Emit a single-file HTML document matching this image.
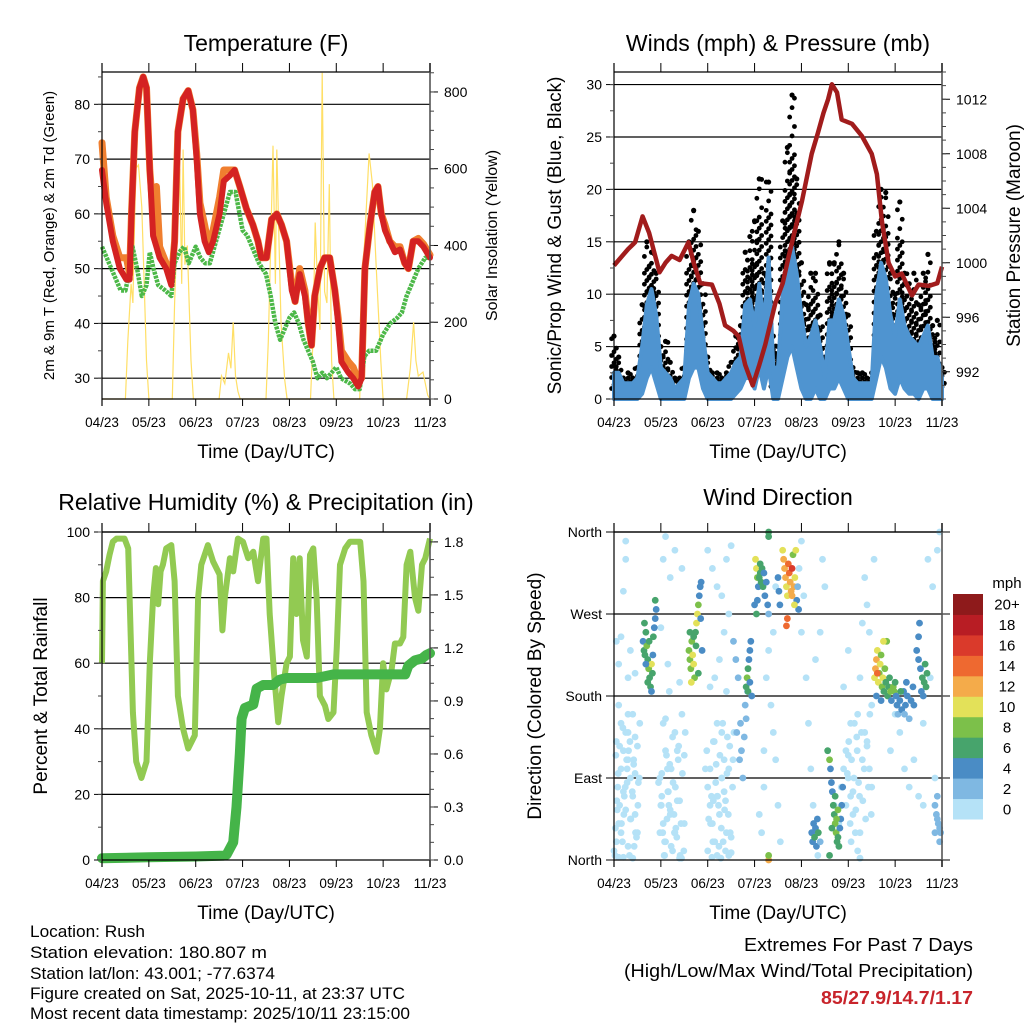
<!DOCTYPE html>
<html><head><meta charset="utf-8">
<style>
html,body{margin:0;padding:0;background:#fff;}
svg{display:block;font-family:"Liberation Sans",Arial,sans-serif;}
</style></head>
<body>
<svg id="c" width="1024" height="1024" viewBox="0 0 1024 1024">
<g id="g"></g>
<g font-size="17" fill="#000">
<text x="30" y="937" textLength="115" lengthAdjust="spacingAndGlyphs">Location: Rush</text>
<text x="30" y="958" textLength="237" lengthAdjust="spacingAndGlyphs">Station elevation: 180.807 m</text>
<text x="30" y="979" textLength="245" lengthAdjust="spacingAndGlyphs">Station lat/lon: 43.001; -77.6374</text>
<text x="30" y="999" textLength="375" lengthAdjust="spacingAndGlyphs">Figure created on Sat, 2025-10-11, at 23:37 UTC</text>
<text x="30" y="1019" textLength="380" lengthAdjust="spacingAndGlyphs">Most recent data timestamp: 2025/10/11 23:15:00</text>
</g>
<g text-anchor="end">
<text x="973" y="951" font-size="18" textLength="229" lengthAdjust="spacingAndGlyphs">Extremes For Past 7 Days</text>
<text x="973" y="977" font-size="18" textLength="349" lengthAdjust="spacingAndGlyphs">(High/Low/Max Wind/Total Precipitation)</text>
<text x="973" y="1004" font-size="18" font-weight="bold" fill="#c8242b" textLength="152" lengthAdjust="spacingAndGlyphs">85/27.9/14.7/1.17</text>
</g>
</svg>
<script>
// ---------- data ----------
const xTickLabels = ["04/23","05/23","06/23","07/23","08/23","09/23","10/23","11/23"];
// Temperature
const tT = [0,0.09,0.23,0.38,0.52,0.59,0.63,0.7,0.8,0.88,0.95,1.02,1.09,1.16,1.23,1.37,1.48,1.55,1.62,1.73,1.84,1.94,2.02,2.09,2.19,2.28,2.37,2.51,2.6,2.73,2.83,2.94,3.08,3.22,3.33,3.4,3.51,3.62,3.73,3.83,3.94,4.05,4.12,4.22,4.33,4.4,4.47,4.54,4.65,4.75,4.86,4.97,5.04,5.11,5.26,5.36,5.47,5.54,5.61,5.72,5.82,5.89,5.96,6.04,6.14,6.25,6.36,6.46,6.54,6.64,6.75,6.86,7.0];
const tempRed = [68,62,55,50,48,48,60,75,83,85,83,68,56,54,52,50,47,55,75,81,82.5,79,70,60,55,53,55,60,66,67,68,65,61,58,55,52,52,59,60,58,55,46,44,49,45,40,36,45,50,52,52,46,40,33,31,30,28.5,30,50,58,64,65,60,57,55,53,53.5,51,50,55,55,54,52];
const tempOrange = [73,63,56,52,52,49,60,75,83,85,83,68,60,65,54,51,48,55,75,81,82.5,79,71,62,58,54,57,63,68,68,68,65,61,58,55,52,52,59,60,58,55,47,44,50,46,40,36,45,50,52,52,46,41,35,33,32,29.5,30,50,58,64,65,60,58,55,54,54,51,50,55,55.5,54.5,52.5];
const tTd = [0,0.1,0.25,0.4,0.5,0.6,0.65,0.75,0.85,0.95,1.02,1.1,1.2,1.35,1.48,1.55,1.65,1.75,1.85,2.0,2.1,2.2,2.3,2.4,2.5,2.6,2.73,2.85,3.0,3.1,3.25,3.35,3.5,3.6,3.7,3.8,3.9,4.0,4.1,4.2,4.3,4.4,4.5,4.6,4.7,4.8,4.9,5.0,5.1,5.3,5.4,5.5,5.6,5.7,5.85,6.0,6.15,6.3,6.4,6.5,6.6,6.75,6.9,7.0];
const dewpoint = [54,52,49,46,46,50,54,50,45,47,53,50,47,46,45,51,53,54,51,54,52,51,51,54,57,60,64,64,57,56,53,51,49,45,40,37,39,41,42,40,37,35,33,30,31,30,31,32,30,29,28,28,34,35,35,38,40,41,42,45,47,50,52,52];
const tSolar = [0,0.5,0.55,0.62,0.66,0.72,0.78,0.85,0.9,0.95,1.0,1.5,1.55,1.62,1.66,1.7,1.73,1.77,1.82,1.9,1.95,2.5,2.55,2.62,2.7,2.75,2.8,2.85,2.9,2.95,3.5,3.55,3.6,3.65,3.7,3.73,3.78,3.82,3.9,3.95,4.45,4.5,4.55,4.6,4.65,4.7,4.75,4.8,4.85,4.9,4.95,5.5,5.6,5.7,5.77,5.85,5.95,6.0,6.5,6.58,6.65,6.7,6.75,6.85,6.95,7.0];
const solar = [0,0,150,300,250,600,610,500,300,100,0,0,250,500,600,300,650,350,400,100,0,0,60,40,120,80,200,60,20,0,0,150,400,660,300,650,400,200,50,0,0,150,460,300,180,850,280,250,560,100,0,0,400,640,560,350,100,0,0,80,200,100,60,70,10,0];
// Wind (0.1-day bins)
const gust = [6,4,2,2.5,2,3,9,15,14,12,5,5.5,3.5,2,2,3,15,18,16,11,4,2.5,2.5,2,2.5,3.5,6,7,14,15.5,17,21,12,20.7,6,5,17,24,29,21,13,9,12,12,8,4,13,13,15,12,8,3,2.5,2.5,2,2.5,16,20,19.7,12,10,18.8,12,11,12,9,12,13.8,7,7.5,3];
const windHi = [2.5,2.5,1.5,1.5,1.5,2,5,9,10.5,8,3,2.5,2,1,1.5,2,9,11,10,6,2.5,2,1.5,1.5,2,2.5,3.5,4,9,9.5,7,11,7,13.5,3,3,10,13,14.5,12,8,5,6,7.5,5,2,7.5,7.5,9.5,8,5,2,1.5,1.5,1.5,1.5,10,13,11.5,8,6,9.5,7,6,5.5,5,6,7,4,4,2];
const windLo = [0,0,0,0,0,0,0.5,2,3,1.5,0,0,0,0,0,0,2,3,3,1,0,0,0,0,0,0,0.5,1,2,2,1,3,1,3,0,0,2,4,5,3,1,0,0,1,0,0,1,1,2,1,0,0,0,0,0,0,2,4,3,1,0.5,2,1,0.5,0.5,0,1,1,0,0,0];
const tP = [0,0.3,0.45,0.61,0.75,0.97,1.1,1.23,1.4,1.59,1.7,1.84,2.09,2.25,2.37,2.55,2.66,2.8,2.96,3.1,3.23,3.44,3.6,3.73,3.87,4.01,4.22,4.35,4.47,4.57,4.65,4.76,4.86,5.08,5.29,5.5,5.61,5.72,5.86,6.0,6.14,6.36,6.5,6.72,6.9,7.0];
const pressure = [999.8,1001,1001.5,1003.4,1002.2,999.3,1000,1000.5,1000.2,1001.5,1000,998.5,998.4,997,995.4,995,994.6,992.5,991,992.5,994,997,998.5,1000.5,1002.5,1004.5,1008,1009.5,1011,1012,1013.1,1012.5,1010.5,1010.2,1009.3,1008,1006.5,1003,1000,999,999.2,997.6,998.4,998.3,998.5,999.7];
// RH & precip
const tRH = [0,0.02,0.09,0.16,0.23,0.31,0.48,0.56,0.59,0.66,0.73,0.84,0.95,1.02,1.09,1.15,1.2,1.25,1.3,1.37,1.48,1.55,1.62,1.73,1.84,1.98,2.05,2.12,2.19,2.26,2.37,2.51,2.57,2.62,2.73,2.8,2.9,3.01,3.12,3.23,3.33,3.44,3.51,3.58,3.67,3.76,3.83,3.94,4.01,4.08,4.15,4.22,4.29,4.37,4.44,4.51,4.58,4.65,4.76,4.83,4.94,5.01,5.08,5.19,5.29,5.51,5.58,5.65,5.75,5.86,5.93,6.0,6.07,6.18,6.25,6.36,6.43,6.5,6.58,6.68,6.75,6.83,6.9,7.0];
const rh = [60,85,88,93,97,98,98,95,80,45,30,25,30,60,80,89,78,88,90,95,96,85,50,40,34,38,80,90,93,96,91,87,70,80,92,88,98,97,92,94,85,98,98,75,57,42,50,60,62,92,75,92,67,62,93,95,80,50,47,43,45,65,90,95,97,97,85,45,38,33,40,60,52,58,66,66,68,90,94,80,76,90,92,98];
const tPr = [0,1.0,2.0,2.6,2.66,2.8,2.87,2.94,2.98,3.05,3.23,3.3,3.44,3.65,3.79,3.94,4.58,4.94,6.47,6.54,6.68,6.83,6.92,7.0];
const precip = [0.01,0.015,0.02,0.025,0.03,0.1,0.3,0.6,0.8,0.86,0.88,0.97,0.99,0.99,1.02,1.03,1.03,1.05,1.05,1.1,1.13,1.14,1.16,1.17];
// Wind direction points
const dirT = [0.02,0.05,0.1,0.12,0.08,0.15,0.2,0.25,0.3,0.35,0.4,0.45,0.5,0.3,0.2,0.4,0.15,0.25,0.35,0.45,0.5,0.55,0.3,0.1,0.05,0.2,0.42,0.28,0.25,0.25,0.2,0.15,0.1,0.35,0.3,0.45,0.05,
0.95,1.0,1.05,1.1,1.15,1.2,1.25,1.3,1.35,1.4,1.02,1.12,0.98,1.22,1.3,1.35,1.45,1.1,1.08,1.5,1.18,1.1,1.05,1.2,1.3,1.45,1.0,1.15,1.4,
1.95,2.0,2.05,2.1,2.15,2.2,2.25,2.3,2.35,2.4,2.45,2.0,2.12,2.2,2.3,1.98,2.38,2.5,2.28,2.0,2.1,2.2,2.3,2.4,2.5,2.45,2.35,2.25,2.15,2.05,2.4,
3.1,3.15,3.2,3.25,3.3,3.35,3.4,3.45,3.5,3.55,3.45,3.4,3.2,3.95,4.0,4.05,4.1,4.15,4.2,4.25,4.3,4.35,4.4,4.45,4.5,4.0,4.3,
4.7,4.8,4.85,4.9,4.95,5.0,5.05,5.1,5.15,5.2,5.25,5.3,5.35,5.4,5.45,5.5,5.05,5.2,5.25,5.3,5.35,5.4,5.5,5.55,5.45,5.0,4.9,
5.9,6.0,6.1,6.2,6.3,6.4,6.5,6.6,6.7,6.8,6.9,6.95,6.75,6.85,6.6,
0.0,0.03,0.06,0.09,0.12,0.15,0.18,0.21,0.24,0.27,0.3,0.33,0.36,0.39,0.42,0.45,0.48,0.51,0.54,0.04,0.1,0.16,0.22,0.28,0.34,0.4,0.46,0.52,0.07,0.19,0.31,0.43,
0.98,1.01,1.04,1.07,1.1,1.13,1.16,1.19,1.22,1.25,1.28,1.31,1.34,1.37,1.4,1.43,1.46,1.49,1.52,1.02,1.08,1.14,1.2,1.26,1.32,1.38,1.44,1.5,1.05,1.17,1.29,1.41,
2.02,2.05,2.08,2.11,2.14,2.17,2.2,2.23,2.26,2.29,2.32,2.35,2.38,2.41,2.44,2.47,2.5,2.53,2.56,2.06,2.12,2.18,2.24,2.3,2.36,2.42,2.48,2.54,2.09,2.21,2.33,2.45,
4.95,4.98,5.01,5.04,5.07,5.1,5.13,5.16,5.19,5.22,5.25,5.28,5.31,5.34,5.37,5.4,5.43,5.46,5.49,5.0,5.06,5.12,5.18,5.24,
2.55,2.6,2.65,2.7,2.72,2.68,2.75,2.62,6.85,6.88,6.9,6.92,6.95,6.97,6.9,6.85,6.95,2.8,2.82,2.78,2.85,
0.62,0.64,0.66,0.68,0.7,0.72,0.74,0.76,0.78,0.8,0.82,0.84,0.86,0.88,0.65,0.75,0.83,0.8,0.72,0.68,0.9,0.88,
1.6,1.62,1.64,1.66,1.68,1.7,1.72,1.74,1.76,1.78,1.8,1.82,1.84,1.86,1.75,1.65,1.7,1.88,1.8,1.62,1.85,
2.82,2.84,2.86,2.88,2.9,2.92,2.86,2.9,2.94,
3.02,3.04,3.06,3.08,3.1,3.12,3.14,3.16,3.18,3.2,3.06,3.22,3.25,3.28,3.3,3.3,3.0,3.04,3.12,
3.6,3.62,3.64,3.66,3.68,3.7,3.72,3.74,3.76,3.78,3.8,3.82,3.84,3.86,3.88,3.5,3.52,3.54,3.9,3.92,3.94,3.7,3.85,3.8,
4.22,4.24,4.26,4.28,4.3,4.32,4.34,4.36,4.4,
4.56,4.6,4.62,4.64,4.66,4.68,4.7,4.72,4.74,4.76,4.78,4.8,4.82,4.84,4.86,4.88,4.72,4.65,4.6,4.78,4.75,
5.56,5.58,5.6,5.62,5.64,5.66,5.68,5.7,5.72,5.74,5.76,5.78,5.8,5.82,5.84,5.86,5.88,5.9,5.92,5.6,5.7,5.75,5.62,
5.96,5.98,6.0,6.02,6.04,6.06,6.1,6.14,6.18,6.2,6.22,6.26,6.3,6.34,6.38,6.4,6.12,6.24,
6.46,6.5,6.54,6.58,6.62,6.66,6.68,6.64,6.56,6.6,6.5,6.52,
3.3,3.3,3.3,3.68];
const dirDeg = [5,20,40,60,80,100,120,140,110,90,70,50,30,15,3,2,30,55,45,95,125,150,160,170,130,75,110,85,350,330,295,245,215,230,200,205,240,
85,60,40,20,75,50,10,30,65,2,95,115,30,100,140,120,160,155,5,40,185,355,330,310,340,320,255,215,195,
100,80,60,40,20,70,50,90,110,30,5,10,130,150,140,120,65,8,2,340,320,300,290,330,345,270,250,220,200,190,185,
50,30,80,200,230,170,140,110,60,20,300,250,120,320,350,290,200,150,100,60,30,5,250,330,300,250,220,
60,40,80,100,120,90,70,50,30,10,2,110,140,130,100,80,150,160,200,260,310,280,170,330,250,230,190,
120,160,140,100,80,110,70,150,330,300,340,360,200,90,60,
10,35,65,95,125,150,20,50,80,110,140,5,45,75,105,135,25,60,90,115,3,40,70,100,130,160,30,85,55,145,120,15,
90,60,30,5,120,45,75,105,15,135,50,80,25,110,65,40,95,10,140,70,20,100,55,85,35,125,2,115,150,60,30,5,
45,100,70,20,130,85,5,60,115,35,150,75,10,95,50,125,25,80,140,40,65,105,15,90,55,135,30,110,3,70,20,100,
60,95,130,40,110,75,150,55,120,85,30,140,65,100,45,125,80,160,50,115,20,90,135,70,
240,220,200,150,120,110,90,140,60,50,45,40,35,30,70,30,20,170,155,135,185,
240,230,225,250,235,220,210,200,190,215,205,245,255,265,260,240,225,185,195,215,275,285,
230,220,210,240,225,215,200,250,260,270,280,290,300,305,235,195,245,230,205,250,265,
190,200,210,220,230,240,185,195,180,
330,320,310,300,310,315,305,320,300,315,285,290,305,280,270,355,280,270,325,
340,330,320,310,300,290,325,315,305,295,320,335,300,310,340,310,295,280,285,300,275,265,280,290,
30,20,40,25,35,15,45,30,20,
120,110,100,85,75,60,50,40,30,20,25,15,35,45,60,80,70,35,5,55,45,
200,210,220,230,195,205,215,225,190,200,185,210,195,240,180,190,200,185,175,180,175,240,205,
190,185,195,180,170,160,175,165,185,160,170,180,155,175,190,170,185,195,
230,220,210,200,195,190,205,215,185,180,245,260,
0,5,360,257];
const dirSpd = [1,1,1,1,1,1,1,1,1,1,1,1,1,1,1,1,1,1,1,1,1,1,1,1,1,1,1,1,1,1,1,1,1,1,1,1,1,
1,1,1,1,1,1,1,1,1,1,1,1,1,1,1,1,1,1,1,1,1,1,1,1,1,1,1,1,1,
1,1,1,1,1,1,1,1,1,1,1,1,1,1,1,1,1,1,1,1,1,1,1,1,1,1,1,1,1,1,1,
1,1,1,1,1,1,1,1,1,1,1,1,1,1,1,1,1,1,1,1,1,1,1,1,1,1,1,
1,1,1,1,1,1,1,1,1,1,1,1,1,1,1,1,1,1,1,1,1,1,1,1,1,1,1,
1,1,1,1,1,1,1,1,1,1,1,1,1,1,1,
1,1,1,1,1,1,1,1,1,1,1,1,1,1,1,1,1,1,1,1,1,1,1,1,1,1,1,1,1,1,1,1,
1,1,1,1,1,1,1,1,1,1,1,1,1,1,1,1,1,1,1,1,1,1,1,1,1,1,1,1,1,1,1,1,
1,1,1,1,1,1,1,1,1,1,1,1,1,1,1,1,1,1,1,1,1,1,1,1,1,1,1,1,1,1,1,1,
1,1,1,1,1,1,1,1,1,1,1,1,1,1,1,1,1,1,1,1,1,1,1,1,
3,3,3,3,3,3,3,3,3,3,3,3,3,3,3,3,3,3,3,3,3,
5,7,6,6,8,7,9,7,7,10,7,7,5,4,6,6,5,5,6,4,4,7,
9,8,9,8,11,10,9,7,11,10,9,5,4,4,6,10,7,4,6,7,5,
6,8,6,5,4,4,7,5,4,
10,11,9,5,6,6,6,7,6,5,4,5,4,4,3,6,4,6,7,
11,12,13,12,11,11,15,14,12,12,16,9,13,11,11,5,4,4,4,3,4,15,10,12,
4,5,4,6,5,4,4,6,3,
6,8,5,4,5,6,7,9,8,6,7,6,5,4,5,4,6,6,7,8,8,
10,12,13,11,10,9,10,8,9,10,7,8,6,9,6,7,7,8,5,4,4,10,14,
8,8,7,5,4,3,4,4,4,3,4,4,3,4,4,4,6,5,
4,4,5,6,6,7,7,6,4,5,4,4,
12,8,7,14];
const spdColors = ["#b5e2f7","#7fb8e2","#4a8cc5","#47a46c","#7cc04a","#e3e159","#f4ab4a","#ee6930","#da3a2b","#b81d24","#8e1a1b"];
const legendLabels = ["0","2","4","6","8","10","12","14","16","18","20+"];
const dirLabels = ["North","East","South","West","North"];

// ---------- helpers ----------
const NS="http://www.w3.org/2000/svg";
const root=document.getElementById('g');
function mk(tag,attrs,parent){const e=document.createElementNS(NS,tag);for(const k in attrs)e.setAttribute(k,attrs[k]);(parent||root).appendChild(e);return e;}
function txt(s,attrs,parent){const e=mk('text',attrs,parent);e.textContent=s;return e;}
function lin(a,b,x0,x1){return v=>x0+(v-a)*(x1-x0)/(b-a);}

function panel(cfg){
  const g=mk('g',{});
  
  
  const {x0,x1,y0,y1}=cfg;
  const X=lin(0,7,x0,x1);
  const Y=lin(cfg.lmin,cfg.lmax,y1,y0);
  cfg.lticks.forEach(v=>{const y=Y(v);if(v>cfg.lmin+0.0001){const l=mk('line',{x1:x0,x2:x1,y1:y,y2:y,stroke:'#000','stroke-width':1.2},g);}});
  cfg.g=g;cfg.X=X;cfg.Y=Y;
  return cfg;
}
function axes(cfg){
  const {x0,x1,y0,y1,g,X,Y}=cfg;
  const ax=mk('g',{},g);
  
  
  mk('line',{x1:x0,x2:x1,y1:y0,y2:y0,stroke:'#000','stroke-width':1.2},ax);
  mk('line',{x1:x0,x2:x1,y1:y1,y2:y1,stroke:'#000','stroke-width':1.2},ax);
  mk('line',{x1:x0,x2:x0,y1:y0-9,y2:y1+7,stroke:'#000','stroke-width':1.2},ax);
  mk('line',{x1:x1,x2:x1,y1:y0-9,y2:y1+7,stroke:'#555','stroke-width':1.6},ax);
  for(let i=0;i<8;i++){const x=X(i);
    mk('line',{x1:x,x2:x,y1:y0-9,y2:y0,stroke:'#000'},ax);
    mk('line',{x1:x,x2:x,y1:y1,y2:y1+7,stroke:'#000'},ax);
    const t=txt(xTickLabels[i],{x:x,y:y1+28,'font-size':13.5,'text-anchor':'middle'},ax);
    
    
  }
  const xt=txt('Time (Day/UTC)',{x:(x0+x1)/2,y:y1+59,'font-size':19,'text-anchor':'middle'},ax);
  
  
  cfg.lticks.forEach((v,i)=>{const y=Y(v);
    mk('line',{x1:x0-8,x2:x0,y1:y,y2:y,stroke:'#000'},ax);
    const t=txt(cfg.llabels?cfg.llabels[i]:String(v),{x:x0-12,y:y+5,'font-size':cfg.lfs||14,'text-anchor':'end'},ax);
    
    
  });
  (cfg.lminor||[]).forEach(v=>{const y=Y(v);mk('line',{x1:x0-4,x2:x0,y1:y,y2:y,stroke:'#444'},ax);});
  if(cfg.rmin!==undefined){
    const R=lin(cfg.rmin,cfg.rmax,y1,y0);
    cfg.rticks.forEach(v=>{const y=R(v);
      mk('line',{x1:x1,x2:x1+8,y1:y,y2:y,stroke:'#000'},ax);
      const t=txt(cfg.rfmt?cfg.rfmt(v):String(v),{x:x1+14,y:y+5,'font-size':14},ax);
      
      
    });
    (cfg.rminor||[]).forEach(v=>{const y=R(v);mk('line',{x1:x1,x2:x1+4,y1:y,y2:y,stroke:'#444'},ax);});
  }
  const tt=txt(cfg.title,{x:(x0+x1)/2,y:cfg.titleY,'font-size':23,'text-anchor':'middle'},ax);
  
  
  const yl=txt(cfg.ltitle,{x:0,y:0,'font-size':cfg.ltfs,'text-anchor':'middle',transform:`translate(${cfg.ltx},${(y0+y1)/2}) rotate(-90)`},ax);
  
  
  if(cfg.rtitle){
    const yr=txt(cfg.rtitle,{x:0,y:0,'font-size':cfg.rtfs,'text-anchor':'middle',transform:`translate(${cfg.rtx},${(y0+y1)/2}) rotate(-90)`},ax);
    
    
  }
}
function range(a,b,s){const r=[];for(let v=a;v<=b+1e-9;v+=s)r.push(+v.toFixed(3));return r;}
function pathFrom(ts,vs,X,Y){return ts.map((t,i)=>(i?'L':'M')+X(t).toFixed(1)+','+Y(vs[i]).toFixed(1)).join('');}

// ---------- Panel 1: Temperature ----------
const p1=panel({name:'temperature-panel',x0:102,x1:430,y0:72,y1:399,lmin:26.2,lmax:85.9,lticks:[30,40,50,60,70,80],lminor:range(30,85,5),
  rmin:0,rmax:852,rticks:[0,200,400,600,800],rminor:range(0,850,50),title:'Temperature (F)',titleY:51,
  ltitle:'2m & 9m T (Red, Orange) & 2m Td (Green)',ltfs:15,ltx:54,rtitle:'Solar Insolation (Yellow)',rtfs:16,rtx:497});
{
  const S=lin(0,852,399,72);
  const sp=mk('path',{d:pathFrom(tSolar,solar,p1.X,S),fill:'none',stroke:'#ffdf66','stroke-width':1.2},p1.g);
  
  
  const op=mk('path',{d:pathFrom(tT,tempOrange,p1.X,p1.Y),fill:'none',stroke:'#f07f2f','stroke-width':7,'stroke-linejoin':'round','stroke-linecap':'round'},p1.g);
  
  
  const gp=mk('path',{d:pathFrom(tTd,dewpoint,p1.X,p1.Y),fill:'none',stroke:'#4cb848','stroke-width':4.5,'stroke-dasharray':'3 1','stroke-linejoin':'round'},p1.g);
  
  
  const rp=mk('path',{d:pathFrom(tT,tempRed,p1.X,p1.Y),fill:'none',stroke:'#d42222','stroke-width':6,'stroke-linejoin':'round','stroke-linecap':'round'},p1.g);
  
  
  axes(p1);
}
// ---------- Panel 2: Winds ----------
const p2=panel({name:'winds-panel',x0:614,x1:942,y0:72,y1:399,lmin:0,lmax:31.2,lticks:[0,5,10,15,20,25,30],lminor:range(0,31,2.5),
  rmin:990,rmax:1014,rticks:[992,996,1000,1004,1008,1012],rminor:range(990,1014,1),title:'Winds (mph) & Pressure (mb)',titleY:51,
  ltitle:'Sonic/Prop Wind & Gust (Blue, Black)',ltfs:19,ltx:561,rtitle:'Station Pressure (Maroon)',rtfs:19,rtx:1020});
{
  const ts=gust.map((_,i)=>i*0.1);
  const gg=mk('g',{fill:'#000'},p2.g);
  
  
  gust.forEach((gv,i)=>{
    const x=p2.X(ts[i]);
    let k=0;
    const dense=windHi[i]+(gv-windHi[i])*0.6;
    for(let v=windHi[i]*0.4;v<=gv;v+=(v<dense?0.35:0.9)){
      const dx=[-2.4,0,2.4][k%3];k++;
      mk('circle',{cx:x+dx,cy:p2.Y(v),r:2.4},gg);
    }
    const c=mk('circle',{cx:x,cy:p2.Y(gv),r:2.6},gg);
    
    
  });
  let d='M'+p2.X(0)+','+p2.Y(windLo[0]);
  windHi.forEach((v,i)=>{d+='L'+p2.X(ts[i]).toFixed(1)+','+p2.Y(v).toFixed(1);});
  for(let i=windLo.length-1;i>=0;i--)d+='L'+p2.X(ts[i]).toFixed(1)+','+p2.Y(windLo[i]).toFixed(1);
  const wp=mk('path',{d:d+'Z',fill:'#4f94d0',stroke:'#4f94d0','stroke-width':4,'stroke-linejoin':'round'},p2.g);
  
  
  const P=lin(990,1014,399,72);
  const pp=mk('path',{d:pathFrom(tP,pressure,p2.X,P),fill:'none',stroke:'#a11c1c','stroke-width':4.5,'stroke-linejoin':'round'},p2.g);
  
  
  axes(p2);
}
// ---------- Panel 3: RH & precip ----------
const p3=panel({name:'humidity-panel',x0:102,x1:430,y0:532,y1:860,lmin:0,lmax:100,lticks:[0,20,40,60,80,100],lminor:range(0,100,10),
  rmin:0,rmax:1.856,rticks:[0,0.3,0.6,0.9,1.2,1.5,1.8],rminor:range(0,1.8,0.1),rfmt:v=>v.toFixed(1),title:'Relative Humidity (%) & Precipitation (in)',titleY:510,
  ltitle:'Percent & Total Rainfall',ltfs:19,ltx:47});
{
  const R=lin(0,1.856,860,532);
  const hp=mk('path',{d:pathFrom(tRH,rh,p3.X,p3.Y),fill:'none',stroke:'#92ca52','stroke-width':6,'stroke-linejoin':'round'},p3.g);
  
  
  const pr=mk('path',{d:pathFrom(tPr,precip,p3.X,R),fill:'none',stroke:'#45b449','stroke-width':10,'stroke-linejoin':'round','stroke-linecap':'round'},p3.g);
  
  
  axes(p3);
}
// ---------- Panel 4: Wind direction ----------
const p4=panel({name:'wind-direction-panel',x0:614,x1:942,y0:532,y1:860,lmin:0,lmax:360,lticks:[0,90,180,270,360],llabels:dirLabels,lfs:14,
  title:'Wind Direction',titleY:505,ltitle:'Direction (Colored By Speed)',ltfs:19,ltx:541});
{
  const dg=mk('g',{},p4.g);
  
  
  dirT.forEach((t,i)=>{
    const ci=Math.min(10,Math.floor(dirSpd[i]/2));
    const c=mk('circle',{cx:p4.X(t),cy:p4.Y(dirDeg[i]),r:3.4,fill:spdColors[ci]},dg);
    
    
  });
  [0,90,180,270,360].forEach(v=>{mk('line',{x1:606,x2:614,y1:p4.Y(v),y2:p4.Y(v),stroke:'#000'},p4.g);mk('line',{x1:942,x2:950,y1:p4.Y(v),y2:p4.Y(v),stroke:'#000'},p4.g);});
  axes(p4);
  const lg=mk('g',{},root);
  
  
  const lt=txt('mph',{x:1007,y:588,'font-size':15,'text-anchor':'middle'},lg);
  
  
  const bh=225/11;
  spdColors.forEach((col,i)=>{
    const y=819-(i+1)*bh;
    const r=mk('rect',{x:953,y:y,width:30,height:bh+0.5,fill:col},lg);
    
    
    const t=txt(legendLabels[i],{x:1007,y:y+bh/2+5.5,'font-size':15,'text-anchor':'middle'},lg);
    
    
  });
}
</script>
</body></html>
